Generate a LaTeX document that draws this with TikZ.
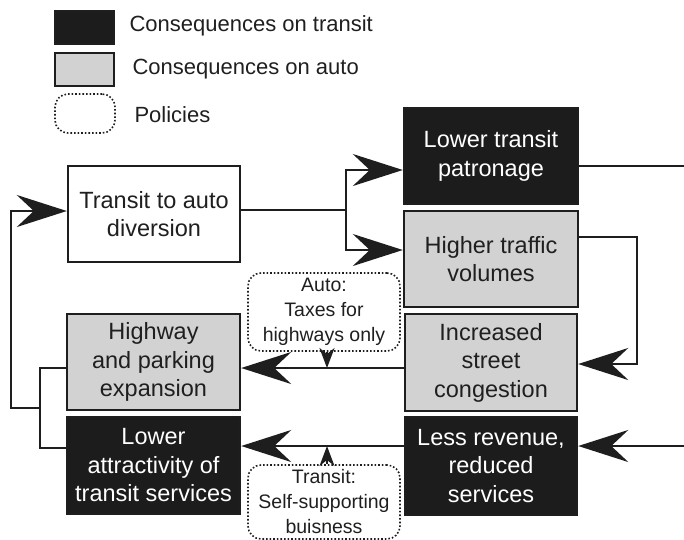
\documentclass[tikz,border=0pt]{standalone}
\usepackage{fontspec}
\setmainfont{Liberation Sans}
\usetikzlibrary{arrows.meta}
\definecolor{darkfill}{HTML}{1C1C1C}
\definecolor{grayfill}{HTML}{D2D2D2}
\definecolor{edge}{HTML}{1E1E1E}
\begin{document}
\begin{tikzpicture}[x=1pt,y=-1pt,
  boxbase/.style={draw=edge, line width=2.4pt, inner sep=0pt, align=center,
    font=\fontsize{23.5}{28.5}\selectfont},
  darkbox/.style={boxbase, fill=darkfill, text=white},
  graybox/.style={boxbase, fill=grayfill, text=black!88},
  whitebox/.style={boxbase, fill=white, text=black!88},
  policy/.style={draw=edge, dotted, line width=1.6pt, rounded corners=13pt, inner sep=0pt,
    align=center, text=black!88, font=\fontsize{19.5}{25}\selectfont,
    minimum width=152pt},
  legtext/.style={anchor=west, text=black!88, font=\fontsize{22}{26}\selectfont},
  conn/.style={draw=edge, line width=2.6pt},
  arr/.style={conn, -{Stealth[length=50pt, width=32pt, inset=17pt]}},
  sarr/.style={conn, line width=2pt, -{Stealth[length=20pt, width=15pt, inset=6pt]}}
]
\useasboundingbox (0,0) rectangle (684,539);

% legend
\node[darkbox, minimum width=59pt, minimum height=33pt] (lega) at (84.5,27.5) {};
\node[graybox, minimum width=59pt, minimum height=33pt] (legb) at (84.5,69.5) {};
\node[policy, minimum width=60pt, minimum height=39pt] (legc) at (85,113.5) {};
\node[legtext] (legat) at (126,26) {Consequences on transit};
\node[legtext] (legbt) at (129,69) {Consequences on auto};
\node[legtext] (legct) at (131,115) {Policies};

% main boxes
\node[whitebox, minimum width=172pt, minimum height=96pt] (div) at (154,214) {Transit to auto\\diversion};
\node[darkbox, minimum width=174pt, minimum height=96pt] (ltp) at (491,156) {Lower transit\\patronage};
\node[graybox, minimum width=174pt, minimum height=96pt] (htv) at (491,259) {Higher traffic\\volumes};
\node[graybox, minimum width=172pt, minimum height=97pt] (isc) at (491,362.5) {Increased\\street\\congestion};
\node[darkbox, minimum width=172pt, minimum height=98pt] (lrr) at (491,466) {Less revenue,\\reduced\\services};
\node[graybox, minimum width=173pt, minimum height=96pt] (hpe) at (153.5,362) {Highway\\and parking\\expansion};
\node[darkbox, minimum width=173pt, minimum height=97pt] (lat) at (153.5,465.5) {Lower\\attractivity of\\transit services};

% policies
\node[policy, minimum height=78pt] (pauto) at (324,312) {Auto:\\Taxes for\\highways only};
\node[policy, minimum height=74pt] (ptran) at (324,502) {Transit:\\Self-supporting\\buisness};

% coordinates
\coordinate (j1) at (346,210);
\coordinate (j1t) at (346,170);
\coordinate (j1b) at (346,250);
\coordinate (r1) at (684,166);
\coordinate (c1) at (637,237);
\coordinate (c2) at (637,364);
\coordinate (r2) at (684,446);
\coordinate (m1) at (327,368);
\coordinate (m2) at (327,446);
\coordinate (l1) at (40,368);
\coordinate (l2) at (40,448);
\coordinate (l3) at (40,408);
\coordinate (l4) at (11,408);
\coordinate (l5) at (11,211);

% connectors
\draw[conn] (div.east |- j1) -- (j1);
\draw[arr] (j1) -- (j1t) -- (ltp.west |- j1t);
\draw[arr] (j1) -- (j1b) -- (htv.west |- j1b);
\draw[conn] (ltp.east |- r1) -- (r1);
\draw[arr] (htv.east |- c1) -- (c1) -- (c2) -- (isc.east |- c2);
\draw[arr] (r2) -- (lrr.east |- r2);
\draw[arr] (isc.west |- m1) -- (hpe.east |- m1);
\draw[arr] (lrr.west |- m2) -- (lat.east |- m2);
\draw[sarr] (pauto.south -| m1) -- (m1);
\draw[sarr] (ptran.north -| m2) -- (m2);
\draw[conn] (hpe.west |- l1) -- (l1) -- (l2) -- (lat.west |- l2);
\draw[arr] (l3) -- (l4) -- (l5) -- (div.west |- l5);
\end{tikzpicture}
\end{document}
